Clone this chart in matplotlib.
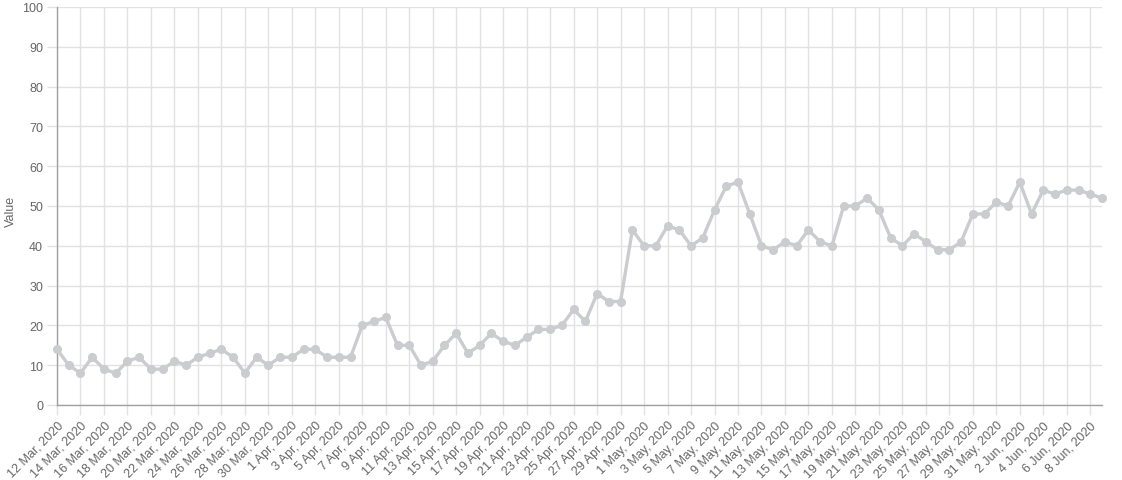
import numpy as np
import pandas as pd
import matplotlib
matplotlib.use('Agg')
import matplotlib.pyplot as plt

# data, one value per day from 12 Mar 2020 to 9 Jun 2020
start = '2020-03-12'
values = [14, 10, 8, 12, 9, 8, 11, 12, 9, 9,
          11, 10, 12, 13, 14, 12, 8, 12, 10, 12,
          12, 14, 14, 12, 12, 12, 20, 21, 22, 15,
          15, 10, 11, 15, 18, 13, 15, 18, 16, 15,
          17, 19, 19, 20, 24, 21, 28, 26, 26, 44,
          40, 40, 45, 44, 40, 42, 49, 55, 56, 48,
          40, 39, 41, 40, 44, 41, 40, 50, 50, 52,
          49, 42, 40, 43, 41, 39, 39, 41, 48, 48,
          51, 50, 56, 48, 54, 53, 54, 54, 53, 52]
dates = pd.date_range(start, periods=len(values), freq='D')
labels = [f'{d.day} {d.strftime("%b")}, {d.year}' for d in dates]
y_ticks = list(range(0, 101, 10))

plt.rcParams['font.family'] = ['Liberation Sans', 'DejaVu Sans']

fig = plt.figure(figsize=(11.22, 4.81), dpi=100)
ax = fig.add_axes([57/1122, 1-406/481, (1102-57)/1122, 398/481])

x = np.arange(len(values))
line_col = '#cbcccf'
ax.plot(x, values, color=line_col, lw=2.4, marker='o', ms=5.5,
        mfc=line_col, mec=line_col, solid_joinstyle='round', zorder=3, clip_on=False)

ax.set_xlim(0, len(values)-1)
ax.set_ylim(0, 100)
ax.set_xticks(x[::2])
ax.set_xticklabels(labels[::2], rotation=45, ha='right', rotation_mode='anchor')
ax.set_yticks(y_ticks)

ax.grid(True, color='#e2e2e2', lw=1)
ax.set_axisbelow(True)
ax.tick_params(axis='both', length=7, width=1, color='#e2e2e2',
               labelcolor='#666666', labelsize=9, pad=3)
for s in ['top', 'right']:
    ax.spines[s].set_visible(False)
for s in ['left', 'bottom']:
    ax.spines[s].set_color('#a0a0a0')
    ax.spines[s].set_linewidth(1)

ax.set_ylabel('Value', color='#666666', fontsize=9, va='center')
ax.yaxis.set_label_coords(-(57-11)/1045, 0.49)

fig.savefig('out.png', dpi=100)
